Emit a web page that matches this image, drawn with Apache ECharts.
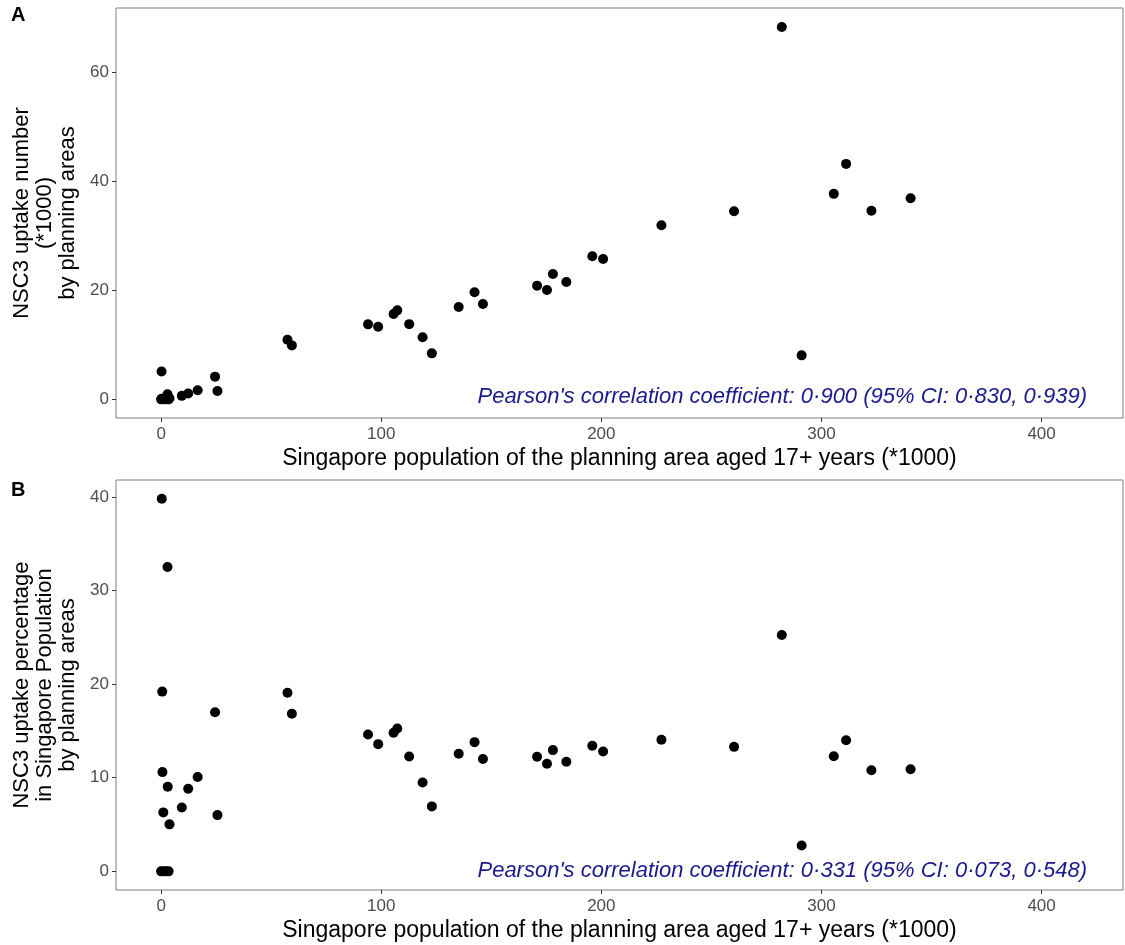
<!DOCTYPE html>
<html><head><meta charset="utf-8">
<script src="https://cdn.jsdelivr.net/npm/echarts@6/dist/echarts.min.js"></script>
<style>html,body{margin:0;padding:0;background:#fff}#c{width:1125px;height:945px}</style>
</head><body><div id="c"></div>
<script>
// Population aged 17+ (*1000) per planning area
const popX = [0.3, 0.5, 0.6, 1.0, 2.9, 3.0, 3.8, 0.0, 1.2, 2.2, 3.4, 0.2,
  9.4, 12.3, 16.6, 24.5, 25.6, 57.4, 59.4, 94.0, 98.6, 105.6, 107.3, 112.7, 118.8, 123.0,
  135.2, 142.4, 146.2, 170.8, 175.3, 178.0, 184.1, 195.9, 200.8, 227.3, 260.3, 282.0,
  291.0, 305.6, 311.2, 322.7, 340.5];
// NSC3 uptake number (*1000) -- panel A
const uptakeA = [0.12, 0.10, 0.06, 0.06, 0.94, 0.27, 0.19, 0.0, 0.0, 0.0, 0.0, 5.1,
  0.64, 1.08, 1.67, 4.17, 1.54, 10.95, 9.9, 13.76, 13.33, 15.65, 16.33, 13.8, 11.38, 8.44,
  16.94, 19.65, 17.5, 20.86, 20.06, 23.0, 21.53, 26.24, 25.75, 31.94, 34.5, 68.3,
  8.07, 37.7, 43.2, 34.6, 36.9];
// NSC3 uptake percentage -- panel B (null where not shown)
const pctB = [39.8, 19.2, 10.6, 6.3, 32.5, 9.04, 5.02, 0, 0, 0, 0, null,
  6.83, 8.82, 10.07, 17.0, 6.01, 19.07, 16.83, 14.62, 13.59, 14.8, 15.26, 12.27, 9.5, 6.94,
  12.56, 13.8, 12.0, 12.24, 11.49, 12.95, 11.71, 13.41, 12.81, 14.05, 13.3, 25.25,
  2.77, 12.3, 14.0, 10.8, 10.9];
const xTicks = [0, 100, 200, 300, 400];
const yTicksA = [0, 20, 40, 60];
const yTicksB = [0, 10, 20, 30, 40];
const annA = "Pearson's correlation coefficient: 0\u00b7900 (95% CI: 0\u00b7830, 0\u00b7939)";
const annB = "Pearson's correlation coefficient: 0\u00b7331 (95% CI: 0\u00b7073, 0\u00b7548)";
const xTitle = "Singapore population of the planning area aged 17+ years (*1000)";
const yTitleA = "NSC3 uptake number\n(*1000)\nby planning areas";
const yTitleB = "NSC3 uptake percentage\nin Singapore Population\nby planning areas";

const dataA = popX.map((x, i) => [x, uptakeA[i]]);
const dataB = popX.map((x, i) => [x, pctB[i]]).filter(d => d[1] !== null);

const FONT = 'Liberation Sans, Arial, sans-serif';
function xAx(gi) {
  return {
    type: 'value', gridIndex: gi, min: -20.5, max: 437,
    name: xTitle, nameLocation: 'middle', nameGap: 29,
    nameTextStyle: { fontSize: 23, color: '#000', fontFamily: FONT, verticalAlign: 'top' },
    axisLine: { show: false, onZero: false }, splitLine: { show: false },
    axisTick: { show: true, length: 4, lineStyle: { color: '#333' }, customValues: xTicks },
    axisLabel: { fontSize: 17, color: '#4d4d4d', margin: 8, fontFamily: FONT, customValues: xTicks }
  };
}
function yAx(gi, min, max, ticks, title) {
  return {
    type: 'value', gridIndex: gi, min: min, max: max,
    name: title, nameLocation: 'middle', nameRotate: 90, nameGap: 30,
    nameTextStyle: { fontSize: 22, color: '#000', fontFamily: FONT, lineHeight: 23 },
    axisLine: { show: false, onZero: false }, splitLine: { show: false },
    axisTick: { show: true, length: 4, lineStyle: { color: '#333' }, customValues: ticks },
    axisLabel: { fontSize: 17, color: '#4d4d4d', margin: 7, fontFamily: FONT, customValues: ticks }
  };
}
const chart = echarts.init(document.getElementById('c'), null, { renderer: 'canvas' });
chart.setOption({
  animation: false,
  backgroundColor: '#fff',
  grid: [
    { left: 116, top: 8, width: 1007, height: 410, show: true, borderColor: '#7f7f7f', borderWidth: 1, backgroundColor: 'transparent' },
    { left: 116, top: 480, width: 1007, height: 410, show: true, borderColor: '#7f7f7f', borderWidth: 1, backgroundColor: 'transparent' }
  ],
  xAxis: [xAx(0), xAx(1)],
  yAxis: [yAx(0, -3.42, 71.8, yTicksA, yTitleA), yAx(1, -1.99, 41.8, yTicksB, yTitleB)],
  series: [
    { type: 'scatter', xAxisIndex: 0, yAxisIndex: 0, data: dataA, symbolSize: 10, itemStyle: { color: '#000', opacity: 1 } },
    { type: 'scatter', xAxisIndex: 1, yAxisIndex: 1, data: dataB, symbolSize: 10, itemStyle: { color: '#000', opacity: 1 } }
  ],
  graphic: [
    { type: 'text', left: 11, top: 5, style: { text: 'A', font: 'bold 20px ' + FONT, fill: '#000' } },
    { type: 'text', left: 11, top: 480, style: { text: 'B', font: 'bold 20px ' + FONT, fill: '#000' } },
    { type: 'text', right: 38, top: 386, style: { text: annA, font: 'italic 22px ' + FONT, fill: '#1a1a8c' } },
    { type: 'text', right: 38, top: 860, style: { text: annB, font: 'italic 22px ' + FONT, fill: '#1a1a8c' } }
  ]
});
</script></body></html>
